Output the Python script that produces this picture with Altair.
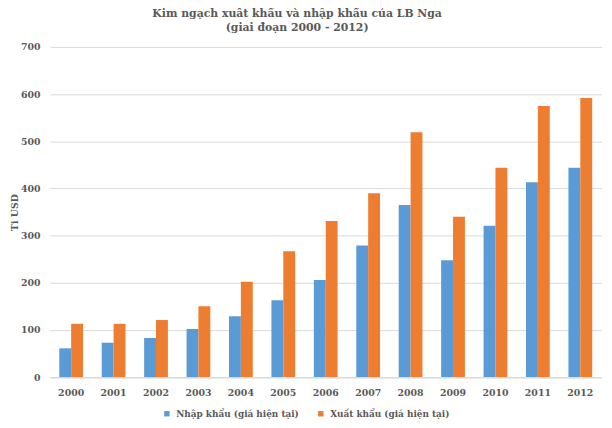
import altair as alt
import pandas as pd

years = ["2000", "2001", "2002", "2003", "2004", "2005", "2006",
         "2007", "2008", "2009", "2010", "2011", "2012"]
imports = [61, 73, 83, 102, 129, 163, 206, 279, 365, 248, 321, 413, 444]
exports = [113, 113, 121, 150, 202, 267, 331, 390, 519, 340, 444, 575, 592]
series_names = ["Nhập khẩu (giá hiện tại)", "Xuất khẩu (giá hiện tại)"]
colors = ["#5B9BD5", "#ED7D31"]

rows = []
for y, i, e in zip(years, imports, exports):
    rows.append({"year": y, "series": series_names[0], "value": i})
    rows.append({"year": y, "series": series_names[1], "value": e})
df = pd.DataFrame(rows)

font = "DejaVu Serif"
grey = "#595959"

chart = alt.Chart(df).mark_bar().encode(
    x=alt.X("year:N", sort=years,
            scale=alt.Scale(paddingInner=0.44, paddingOuter=0.22),
            axis=alt.Axis(title=None, labelAngle=0, ticks=False, domain=True,
                          domainColor="#D9D9D9", labelPadding=11,
                          labelFont=font, labelFontSize=9.5, labelFontWeight="bold",
                          labelColor=grey)),
    xOffset=alt.XOffset("series:N", sort=series_names),
    y=alt.Y("value:Q", scale=alt.Scale(domain=[0, 700]),
            axis=alt.Axis(values=[0, 100, 200, 300, 400, 500, 600, 700],
                          title="Ti USD", titleFont=font, titleFontSize=9.5,
                          titleFontWeight="bold", titleColor=grey, titlePadding=1,
                          ticks=False, domain=False, labelPadding=10,
                          labelFont=font, labelFontSize=9.5, labelFontWeight="bold",
                          labelColor=grey, gridColor="#D9D9D9", gridWidth=1)),
    color=alt.Color("series:N", sort=series_names,
                    scale=alt.Scale(domain=series_names, range=colors),
                    legend=alt.Legend(title=None, orient="none", direction="horizontal",
                                      legendX=114, legendY=367, padding=0,
                                      symbolType="square", symbolSize=30,
                                      symbolStrokeWidth=0, labelOffset=5,
                                      columnPadding=17,
                                      labelFont=font, labelFontSize=9,
                                      labelFontWeight="bold", labelColor=grey)),
).properties(
    width=559,
    height=334.6,
    title=alt.TitleParams(
        text=["Kim ngạch xuất khẩu và nhập khẩu của LB Nga", "(giai đoạn 2000 - 2012)"],
        font=font, fontSize=11, fontWeight="bold", color=grey, lineHeight=14,
        anchor="middle", dx=-29, offset=9),
    autosize=alt.AutoSizeParams(type="none"),
    padding={"left": 42.5, "top": 36.7, "right": 2.5, "bottom": 40.7},
).configure_view(stroke=None)

chart.save("out.html", embed_options={"renderer": "svg", "actions": False})
